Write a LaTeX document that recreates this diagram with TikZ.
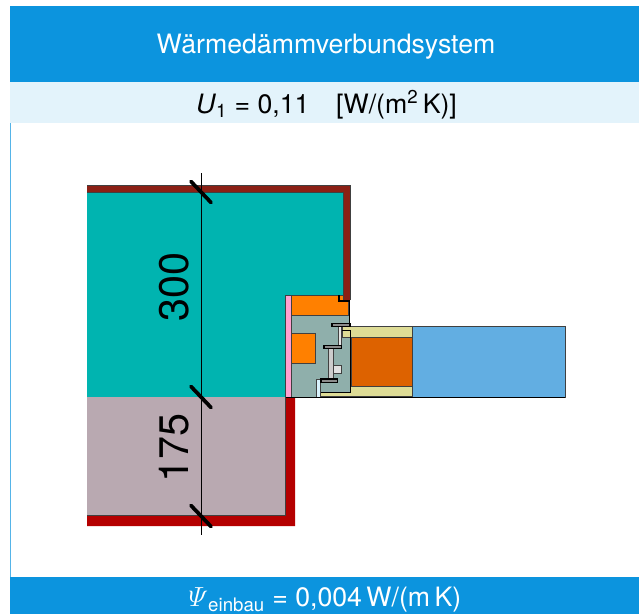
\documentclass[tikz,border=0pt]{standalone}
\usepackage{amsmath}
\usepackage{fontspec}
\setmainfont{TeX Gyre Heros}
\definecolor{kopfblau}{HTML}{0C94DE}
\definecolor{zeileblau}{HTML}{E3F3FB}
\definecolor{wandrot}{HTML}{8B2015}
\definecolor{sockelrot}{HTML}{B50000}
\definecolor{daemmung}{HTML}{00B4B0}
\definecolor{sockel}{HTML}{B9A9B1}
\definecolor{rahmen}{HTML}{8FAFAB}
\definecolor{holz}{HTML}{FF8000}
\definecolor{kern}{HTML}{DD6200}
\definecolor{leiste}{HTML}{DEDC96}
\definecolor{glas}{HTML}{62AEE2}
\definecolor{fuge}{HTML}{FFA0D0}
\tikzset{
  teil/.style={draw=black!75,line width=0.6pt},
  masstick/.style={line width=2.8pt,line cap=round},
  beschlag/.style={fill=black!45,draw=black,line width=1pt},
}
\begin{document}
\begin{tikzpicture}[x=0.75pt,y=-0.75pt]
\useasboundingbox (0,0) rectangle (639,614);

\fill[kopfblau] (9.5,6) rectangle (639,82);
\fill[zeileblau] (9.5,82) rectangle (639,123);
\fill[kopfblau] (9.5,577) rectangle (639,614);
\draw[kopfblau!70,line width=0.6pt] (10,123)--(10,577);

\node[white,font=\fontsize{20}{22}\selectfont] (titel) at (326,47) {Wärmedämmverbundsystem};
\node[font=\fontsize{20}{22}\selectfont] (uwert) at (326.5,105) {\textit{U}\textsubscript{1} = 0,11\quad [W/(m\textsuperscript{2}\,K)]};
\node[white,font=\fontsize{20}{22}\selectfont] (psiwert) at (325,600) {$\varPsi$\textsubscript{einbau} = 0,004\,W/(m\,K)};

% Wand
\fill[wandrot] (87,185)--(350,185)--(350,300)--(343,300)--(343,192)--(87,192)--cycle;
\draw[black!75,line width=0.6pt] (87,185)--(350,185)--(350,300);
\fill[daemmung] (87,192)--(343,192)--(343,295)--(285.5,295)--(285.5,397)--(87,397)--cycle;
\draw[teil] (87,192)--(343,192)--(343,295)--(285.5,295)--(285.5,397)--(87,397);

% Sockel
\fill[sockelrot] (285.5,397)--(295,397)--(295,526)--(87,526)--(87,515.5)--(285.5,515.5)--cycle;
\fill[sockel] (87,397) rectangle (285.5,515.5);
\draw[teil] (87,515.5)--(285.5,515.5)--(285.5,397);

% Fenster
\fill[rahmen] (291.5,315)--(349,315)--(349,330)--(350.5,330)--(350.5,397)--(291.5,397)--cycle;
\draw[teil,fill=fuge] (285.5,295) rectangle (291.5,397);
\draw[teil,fill=holz] (291.5,295)--(343,295)--(343,301)--(348.5,301)--(348.5,315)--(291.5,315)--cycle;
\draw[teil,fill=holz] (291.5,333) rectangle (315,363.5);
\draw[teil,fill=leiste] (342,326.7) rectangle (412,337);
\draw[teil,fill=leiste] (320,386.7) rectangle (412,396.7);
\draw[teil,fill=kern] (351,337) rectangle (412,386.7);
\draw[teil,fill=glas] (412,326) rectangle (565,397);
\fill[rahmen] (320.4,380) rectangle (350.4,391.7);
\draw[black,line width=0.7pt] (342,330)--(350.7,330)--(350.7,392)--(320,392);
\draw[black,line width=1pt] (339,295)--(339,301)--(349.5,301);
\draw[black,line width=1.3pt] (349.5,300)--(349.5,325);
\draw[teil,fill=black!10] (338.5,326.7) rectangle (341.7,346.7);
\draw[teil,fill=black!20] (328.7,347) rectangle (333,379);
\draw[teil,fill=black!12] (333.3,365) rectangle (341.3,373.5);
\draw[teil,fill=cyan!15] (316.7,397)--(316.7,379)--(323,379)--(323,381.5)--(320,381.5)--(320,397)--cycle;
\draw[beschlag] (332,323.5) rectangle (350,326.5);
\draw[beschlag] (324,345.3) rectangle (341.7,348.3);
\draw[beschlag] (321,379) rectangle (337.7,382.5);
\draw[black,line width=0.6pt] (285.5,397)--(565,397);

% Mass
\draw[black,line width=0.7pt] (201,173)--(201,535);
\foreach \y in {192,397,516}
  \draw[masstick] (191,\y-10.5)--(211,\y+10.5);
\node[rotate=90,font=\fontsize{31}{32}\selectfont] (mass300) at (174,287) {300};
\node[rotate=90,font=\fontsize{31}{32}\selectfont] (mass175) at (174,448) {175};

\end{tikzpicture}
\end{document}
